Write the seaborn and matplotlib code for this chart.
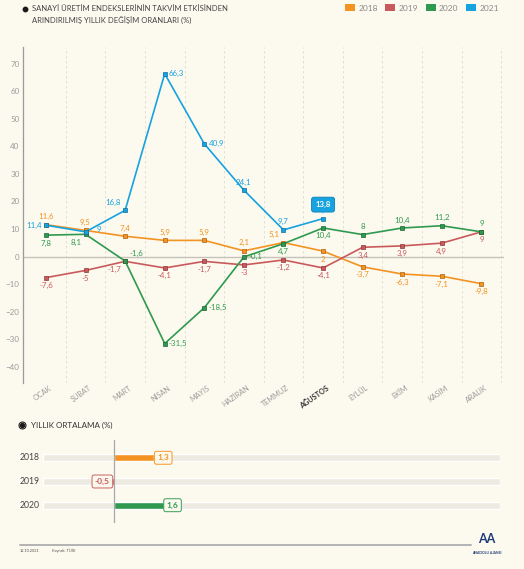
import matplotlib
matplotlib.use("Agg")
import matplotlib.pyplot as plt
import matplotlib.transforms as mtransforms
from matplotlib.lines import Line2D
from matplotlib.patches import Patch
import pandas as pd
import seaborn as sns

# Data
months = ["OCAK", "ŞUBAT", "MART", "NİSAN", "MAYIS", "HAZİRAN", "TEMMUZ",
          "AĞUSTOS", "EYLÜL", "EKİM", "KASIM", "ARALIK"]
y2018 = [11.6, 9.5, 7.4, 5.9, 5.9, 2.1, 5.1, 2, -3.7, -6.3, -7.1, -9.8]
y2019 = [-7.6, -5, -1.7, -4.1, -1.7, -3, -1.2, -4.1, 3.4, 3.9, 4.9, 9]
y2020 = [7.8, 8.1, -1.6, -31.5, -18.5, -0.1, 4.7, 10.4, 8, 10.4, 11.2, 9]
y2021 = [11.4, 9, 16.8, 66.3, 40.9, 24.1, 9.7, 13.8]
avg_years = ["2018", "2019", "2020"]
avg_values = [1.3, -0.5, 1.6]

series = {"2018": y2018, "2019": y2019, "2020": y2020, "2021": y2021}
colors = {"2018": "#f39322", "2019": "#c95a5c", "2020": "#2f9a4f", "2021": "#17a2e0"}
edges = {"2018": "#b0610c", "2019": "#8e3436", "2020": "#1c6633", "2021": "#0d6fa0"}

# label placement per point: a=above, b=below, l=left, r=right, R=far right
places = {
    "2018": ["a", "a", "a", "a", "a", "a", "al", "b", "b", "b", "b", "b"],
    "2019": ["b", "b", "bl", "b", "b", "b", "b", "b", "b", "b", "b", "b"],
    "2020": ["b", "bl", "ar", "r", "r", "r", "b", "b", "a", "a", "a", "a"],
    "2021": ["l", "R", "al", "r", "r", "a", "a", "box"],
}

BG = "#fcf9ee"
GRAY = "#9a9a9a"

sns.set_theme(style="white")
plt.rcParams["font.family"] = ["Lato", "DejaVu Sans"]

fig = plt.figure(figsize=(5.24, 5.69), dpi=100, facecolor=BG)

# ---------------- main line chart ----------------
ax = fig.add_axes([23 / 524, 1 - 383 / 569, (504 - 23) / 524, (383 - 47) / 569])
ax.set_facecolor(BG)

rows = []
for yr, vals in series.items():
    for i, v in enumerate(vals):
        rows.append({"year": yr, "month": i, "value": v})
df = pd.DataFrame(rows)

for yr in series:
    sub = df[df["year"] == yr]
    sns.lineplot(data=sub, x="month", y="value", ax=ax, color=colors[yr], lw=1.2,
                 marker="s", markersize=3.3, markeredgecolor=edges[yr],
                 markeredgewidth=0.5, zorder=3)

def fmt(v):
    return f"{v:g}".replace(".", ",")

for yr, vals in series.items():
    for i, v in enumerate(vals):
        p = places[yr][i]
        if p == "box":
            ax.annotate(fmt(v), (i, v), xytext=(0, 7.5), textcoords="offset points",
                        ha="center", va="bottom", fontsize=5.6, fontweight="bold",
                        color="white", zorder=6,
                        bbox=dict(boxstyle="round,pad=0.5,rounding_size=0.3",
                                  fc=colors[yr], ec="#0d7fb8", lw=0.6))
            ax.annotate("▼", (i, v), xytext=(0, 3.6), textcoords="offset points",
                        ha="center", va="bottom", fontsize=3.5, color=colors[yr],
                        family="DejaVu Sans", zorder=6)
            continue
        dx, dy, ha, va = 0, 0, "center", "center"
        if "a" in p:
            dy, va = 3.2, "bottom"
        if "b" in p:
            dy, va = -3.2, "top"
        if "l" in p:
            dx, ha = -3, "right"
        if "r" in p:
            dx, ha = 3, "left"
        if "R" in p:
            dx, dy, ha = 8, 1.5, "left"
        ax.annotate(fmt(v), (i, v), xytext=(dx, dy), textcoords="offset points",
                    ha=ha, va=va, fontsize=5.7, color=colors[yr], zorder=5)

ax.set_xlim(-0.58, 11.57)
ax.set_ylim(-45.8, 76)
ax.set_yticks(range(-40, 71, 10))
ax.set_xticks(range(12))
ax.set_xticklabels(months)
ax.set_xlabel("")
ax.set_ylabel("")
for i in range(12):
    ax.axvline(i + 0.5, color="#dedbd0", lw=0.6, ls=(0, (3, 3)), zorder=1)
ax.axhline(0, color="#c4c2ba", lw=1.0, zorder=2)

for s in ["top", "right", "bottom"]:
    ax.spines[s].set_visible(False)
ax.spines["left"].set_color(GRAY)
ax.spines["left"].set_linewidth(0.9)
ax.tick_params(axis="y", direction="in", length=5, width=0.7, color="#d0cec6",
               labelsize=5.8, labelcolor=GRAY, pad=2.5)
ax.tick_params(axis="x", length=0, labelsize=5.2, labelcolor=GRAY, pad=3)
shift = mtransforms.ScaledTranslation(5 / 100, 0, fig.dpi_scale_trans)
for lab in ax.get_xticklabels():
    lab.set_rotation(35)
    lab.set_ha("right")
    lab.set_va("center")
    lab.set_rotation_mode("anchor")
    lab.set_transform(lab.get_transform() + shift)
    if lab.get_text() == "AĞUSTOS":
        lab.set_fontweight("bold")
        lab.set_color("#333333")

# title and legend
fig.add_artist(Line2D([25 / 524], [1 - 9 / 569], marker="o", ms=3.2, color="#1a1a1a",
                      transform=fig.transFigure))
fig.text(32 / 524, 1 - 14.5 / 569,
         "SANAYİ ÜRETİM ENDEKSLERİNİN TAKVİM ETKİSİNDEN\nARINDIRILMIŞ YILLIK DEĞİŞİM ORANLARI (%)",
         ha="left", va="center", fontsize=5.5, color="#444444", linespacing=1.45)
handles = [Patch(facecolor=colors[y], edgecolor="none") for y in series]
fig.legend(handles, list(series.keys()), ncol=4, loc="center right",
           bbox_to_anchor=(503 / 524, 1 - 8 / 569), frameon=False, fontsize=6,
           labelcolor="#8a8a8a", handlelength=1.2, handleheight=0.8,
           handletextpad=0.4, columnspacing=0.9, borderpad=0)

# ---------------- yearly average bars ----------------
bx = fig.add_axes([43 / 524, 1 - 523 / 569, (500 - 43) / 524, 83 / 569])
bx.set_facecolor(BG)
bx.set_xlim(-2.29, 12.45)
track = [12.45 + 2.29] * len(avg_years)
bx.barh(range(len(avg_years)), track, left=-2.29, height=0.28, color="#edebe1", zorder=0)
avg_df = pd.DataFrame({"year": avg_years, "value": avg_values})
sns.barplot(data=avg_df, x="value", y="year", hue="year", orient="h", ax=bx,
            palette=[colors[y] for y in avg_years], width=0.28, legend=False,
            saturation=1, zorder=2)
bx.set_ylim(2.75, -0.75)
bx.set_xlim(-2.29, 12.45)
bx.axvline(0, color="#a8a8a8", lw=0.9, zorder=3)
for s in bx.spines.values():
    s.set_visible(False)
bx.set_xticks([])
bx.set_yticks([])
bx.set_xlabel("")
bx.set_ylabel("")

for i, v in enumerate(avg_values):
    c = colors[avg_years[i]]
    if v >= 0:
        xy, off, ha = (v, i), (2.2, 0), "left"
    else:
        xy, off, ha = (0, i), (-3, 0), "right"
    bx.annotate(fmt(v), xy, xytext=off, textcoords="offset points", ha=ha, va="center",
                fontsize=6, fontweight="bold", color=c, zorder=5,
                bbox=dict(boxstyle="round,pad=0.35,rounding_size=0.25", fc=BG, ec=c,
                          lw=0.7, alpha=0.95))

ytrans = mtransforms.blended_transform_factory(fig.transFigure, bx.transData)
for i, yr in enumerate(avg_years):
    fig.text(20 / 524, i, yr, transform=ytrans, ha="left", va="center",
             fontsize=6.2, color="#444444")

fig.add_artist(Line2D([22 / 524], [1 - 425 / 569], marker="o", ms=5, mfc="white",
                      mec="#1a1a1a", mew=0.8, transform=fig.transFigure))
fig.add_artist(Line2D([22 / 524], [1 - 425 / 569], marker="o", ms=2.8, color="#1a1a1a",
                      transform=fig.transFigure))
fig.text(31 / 524, 1 - 425 / 569, "YILLIK ORTALAMA (%)", ha="left", va="center",
         fontsize=5.8, color="#333333")

# footer
fig.add_artist(Line2D([20 / 524, 471 / 524], [1 - 545 / 569] * 2, color="#b3b3b3", lw=1.4,
                      transform=fig.transFigure))
fig.text(20 / 524, 1 - 551 / 569, "12.10.2021", fontsize=2.8, color="#555555", va="center")
fig.text(52 / 524, 1 - 551 / 569, "Kaynak: TÜİK", fontsize=2.8, color="#555555", va="center")
fig.text(487 / 524, 1 - 539 / 569, "AA", fontsize=9, fontweight="bold", color="#1f3c78",
         ha="center", va="center")
fig.text(487 / 524, 1 - 553 / 569, "ANADOLU AJANSI", fontsize=2.4, fontweight="bold",
         color="#1f3c78", ha="center", va="center")

fig.savefig("out.png", dpi=100, facecolor=BG)
